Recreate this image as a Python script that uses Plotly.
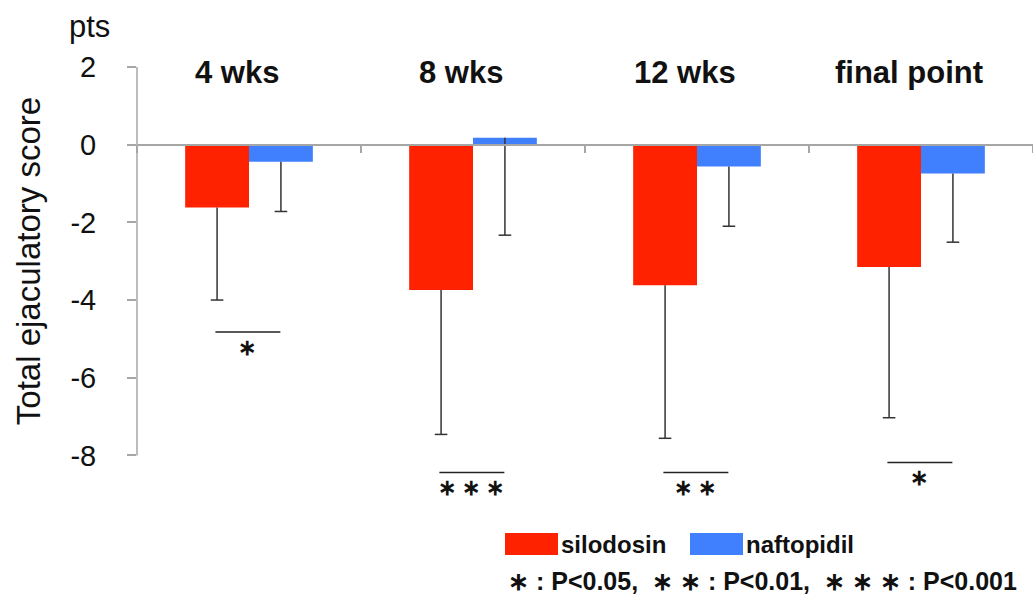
import plotly.graph_objects as go

categories = ["4 wks", "8 wks", "12 wks", "final point"]
silodosin_mean = [-1.62, -3.74, -3.62, -3.15]
silodosin_sd = [2.38, 3.72, 3.94, 3.88]
naftopidil_mean = [-0.44, 0.18, -0.56, -0.74]
naftopidil_sd = [1.28, 2.51, 1.54, 1.77]
sig_marks = ["\u2217", "\u2217 \u2217 \u2217", "\u2217 \u2217", "\u2217"]
sig_level = [-4.82, -8.44, -8.44, -8.18]
y_ticks = [2, 0, -2, -4, -6, -8]
series_names = ["silodosin", "naftopidil"]
y_title = "Total ejaculatory score"
unit_label = "pts"
p_legend = "\u2217 : P<0.05,\u00a0\u00a0\u2217 \u2217 : P<0.01,\u00a0\u00a0\u2217 \u2217 \u2217 : P<0.001"

RED = "#FF2200"
BLUE = "#4080FF"
AXIS = "#a6a6a6"
ERR = "#333333"
FONT = "Liberation Sans, Arial, sans-serif"
YMIN, YMAX = -9.2, 2.0
GAP = 0.43

fig = go.Figure()
series = [
    (series_names[0], silodosin_mean, silodosin_sd, RED),
    (series_names[1], naftopidil_mean, naftopidil_sd, BLUE),
]
for name, mean, sd, color in series:
    fig.add_trace(go.Bar(
        x=categories, y=mean, name=name, marker=dict(color=color, line=dict(width=0)),
        error_y=dict(type="data", symmetric=False, array=[0] * len(sd), arrayminus=sd,
                     color=ERR, thickness=1.5, width=0),
        showlegend=False, hoverinfo="skip",
    ))
# caps at the lower end of each error bar
for name, mean, sd, color in series:
    fig.add_trace(go.Scatter(
        x=categories, y=[m - s for m, s in zip(mean, sd)], mode="markers", name=name + " SD",
        marker=dict(symbol="line-ew", size=9, color=ERR, line=dict(width=1.5, color=ERR)),
        showlegend=False, hoverinfo="skip", cliponaxis=False,
    ))

shapes = []
annotations = []
# y axis line from -8 to 2
shapes.append(dict(type="line", xref="paper", yref="y", x0=0, x1=0, y0=min(y_ticks), y1=max(y_ticks),
                   line=dict(color=AXIS, width=1.5)))
# significance bars
for i, (mark, lvl) in enumerate(zip(sig_marks, sig_level)):
    shapes.append(dict(type="line", xref="x", yref="y", x0=i - 0.15, x1=i + 0.14, y0=lvl, y1=lvl,
                       line=dict(color="#222222", width=1.5)))
    annotations.append(dict(x=i, y=lvl, xref="x", yref="y", text="<b>" + mark + "</b>", showarrow=False,
                            yanchor="top", yshift=-1, xshift=-2, font=dict(size=22, color="#111111", family=FONT)))
# category labels
for i, c in enumerate(categories):
    annotations.append(dict(x=i, y=1.85, xref="x", yref="y", text="<b>" + c + "</b>", showarrow=False,
                            xshift=-12, yanchor="middle", font=dict(size=31, color="#111111", family=FONT)))

def px2paper_x(px):
    return (px - 137) / 896.0

def px2paper_y(py):
    return (502 - py) / 435.0

# y axis title
annotations.append(dict(x=px2paper_x(28), y=(min(y_ticks) + max(y_ticks)) / 2, xref="paper", yref="y",
                        text=y_title, textangle=-90, showarrow=False, xanchor="center", yanchor="middle",
                        font=dict(size=33, color="#111111", family=FONT)))

# manual legend
for name, color, x0, x1 in [(series_names[0], RED, 505, 558), (series_names[1], BLUE, 690, 743)]:
    shapes.append(dict(type="rect", xref="paper", yref="paper", x0=px2paper_x(x0), x1=px2paper_x(x1),
                       y0=px2paper_y(555), y1=px2paper_y(533), fillcolor=color, line=dict(width=0)))
    annotations.append(dict(x=px2paper_x(x1 + 1), y=px2paper_y(544), xref="paper", yref="paper",
                            text="<b>" + name + "</b>", showarrow=False, xanchor="left", yanchor="middle",
                            font=dict(size=24, color="#111111", family=FONT)))
annotations.append(dict(x=px2paper_x(506), y=px2paper_y(581), xref="paper", yref="paper",
                        text="<b>" + p_legend + "</b>", showarrow=False, xanchor="left", yanchor="middle",
                        font=dict(size=25, color="#111111", family=FONT)))
annotations.append(dict(x=px2paper_x(67), y=px2paper_y(27), xref="paper", yref="paper",
                        text=unit_label, showarrow=False, xanchor="left", yanchor="middle",
                        font=dict(size=31, color="#111111", family=FONT)))

fig.update_layout(
    width=1033, height=597,
    margin=dict(l=137, r=0, t=67, b=95, autoexpand=False),
    paper_bgcolor="white", plot_bgcolor="white",
    barmode="group", bargap=GAP, bargroupgap=0,
    scattermode="group", scattergap=GAP,
    font=dict(family=FONT, color="#111111"),
    shapes=shapes, annotations=annotations,
    xaxis=dict(type="category", range=[-0.5, 3.5], anchor="free", position=(0 - YMIN) / (YMAX - YMIN),
               showline=True, linecolor=AXIS, linewidth=1.5, ticks="outside", tickson="boundaries",
               ticklen=8, tickcolor=AXIS, tickwidth=1.5, showticklabels=False, showgrid=False, zeroline=False),
    yaxis=dict(range=[YMIN, YMAX], tickvals=y_ticks, ticktext=[str(v) for v in y_ticks],
               ticks="outside", ticklen=9, tickcolor=AXIS, tickwidth=1.5, showline=False, showgrid=False,
               zeroline=False, tickfont=dict(size=29, color="#111111", family=FONT),
               ticklabelstandoff=25, automargin=False),
)

fig.write_html("out.html", config={"displayModeBar": False},
               post_script="document.body.style.margin='0px';")
